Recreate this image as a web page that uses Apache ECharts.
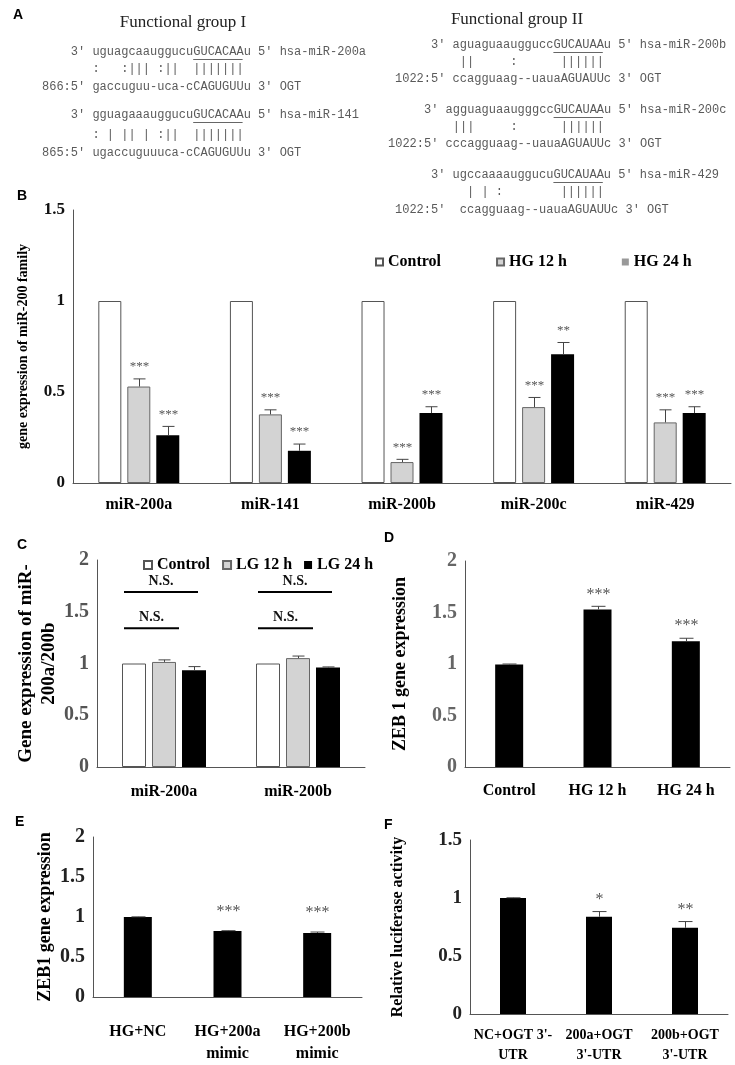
<!DOCTYPE html>
<html><head><meta charset="utf-8">
<script src="https://cdn.jsdelivr.net/npm/echarts@6/dist/echarts.min.js"></script>
<style>html,body{margin:0;padding:0;background:#fff}#c{width:735px;height:1065px}</style>
</head><body><div id="c"></div>
<script>
// ---------- Panel A text ----------
const titleI = 'Functional group I';
const titleII = 'Functional group II';
const seqGroupI = [
  "    3' uguagcaauggucuGUCACAAu 5' hsa-miR-200a",
  "       :   :||| :||  |||||||",
  "866:5' gaccuguu-uca-cCAGUGUUu 3' OGT",
  "    3' gguagaaauggucuGUCACAAu 5' hsa-miR-141",
  "       : | || | :||  |||||||",
  "865:5' ugaccuguuuca-cCAGUGUUu 3' OGT"
];
const seqGroupII = [
  "     3' aguaguaaugguccGUCAUAAu 5' hsa-miR-200b",
  "         ||     :      ||||||",
  "1022:5' ccagguaag--uauaAGUAUUc 3' OGT",
  "     3' agguaguaaugggccGUCAUAAu 5' hsa-miR-200c",
  "         |||     :      ||||||",
  "1022:5' cccagguaag--uauaAGUAUUc 3' OGT",
  "     3' ugccaaaauggucuGUCAUAAu 5' hsa-miR-429",
  "          | | :        ||||||",
  "1022:5'  ccagguaag--uauaAGUAUUc 3' OGT"
];
// seed (underlined) region: [line index, first char, last char]
const seedI = [[0, 21, 27], [3, 21, 27]];
const seedII = [[0, 22, 28], [3, 23, 29], [6, 22, 28]];

// ---------- Panel B ----------
const bCategories = ['miR-200a', 'miR-141', 'miR-200b', 'miR-200c', 'miR-429'];
const bSeriesNames = ['Control', 'HG 12 h', 'HG 24 h'];
const bControl = [1, 1, 1, 1, 1];
const bHG12 = [0.53, 0.377, 0.115, 0.417, 0.333];
const bHG12Err = [0.042, 0.025, 0.015, 0.053, 0.069];
const bHG12Sig = ['***', '***', '***', '***', '***'];
const bHG24 = [0.263, 0.177, 0.384, 0.708, 0.384];
const bHG24Err = [0.048, 0.037, 0.035, 0.064, 0.035];
const bHG24Sig = ['***', '***', '***', '**', '***'];
const bYTicks = [0, 0.5, 1, 1.5];
const bYName = 'gene expression of miR-200 family';

// ---------- Panel C ----------
const cCategories = ['miR-200a', 'miR-200b'];
const cSeriesNames = ['Control', 'LG 12 h', 'LG 24 h'];
const cControl = [1, 1];
const cLG12 = [1.015, 1.052];
const cLG12Err = [0.02, 0.02];
const cLG24 = [0.935, 0.962];
const cLG24Err = [0.035, 0.005];
const cNSLevel = [1.69, 1.34];
const cNSFrom = [0, 0];
const cNSTo = [2, 1];
const cNSText = ['N.S.', 'N.S.'];
const cYTicks = [0, 0.5, 1, 1.5, 2];
const cYName = 'Gene expression of miR-\n200a/200b';

// ---------- Panel D ----------
const dCategories = ['Control', 'HG 12 h', 'HG 24 h'];
const dValues = [0.995, 1.53, 1.22];
const dErr = [0.005, 0.03, 0.03];
const dSig = ['', '***', '***'];
const dYTicks = [0, 0.5, 1, 1.5, 2];
const dYName = 'ZEB 1 gene expression';

// ---------- Panel E ----------
const eCategories = ['HG+NC', 'HG+200a\nmimic', 'HG+200b\nmimic'];
const eValues = [1.0, 0.826, 0.80];
const eErr = [0.002, 0.003, 0.012];
const eSig = ['', '***', '***'];
const eYTicks = [0, 0.5, 1, 1.5, 2];
const eYName = 'ZEB1 gene expression';

// ---------- Panel F ----------
const fCategories = ["NC+OGT 3'-\nUTR", "200a+OGT\n3'-UTR", "200b+OGT\n3'-UTR"];
const fValues = [1.0, 0.838, 0.743];
const fErr = [0.002, 0.045, 0.054];
const fSig = ['', '*', '**'];
const fYTicks = [0, 0.5, 1, 1.5];
const fYName = 'Relative luciferase activity';

const panelLetters = ['A', 'B', 'C', 'D', 'E', 'F'];

// ---------- styling ----------
const SERIF = '"Liberation Serif","Times New Roman",serif';
const MONO = '"Liberation Mono","Courier New",monospace';
const SANS = '"Liberation Sans",Arial,sans-serif';
const CH = 7.2; // mono char width at 12px

const chart = echarts.init(document.getElementById('c'), null, {renderer: 'canvas', width: 735, height: 1065});

function xAxisCfg(idx, cats, fontSize, margin, lineHeight) {
  return {
    type: 'category', gridIndex: idx, data: cats,
    axisLine: {lineStyle: {color: '#555', width: 1}},
    axisTick: {show: false},
    axisLabel: {interval: 0, margin: margin, color: '#000', fontFamily: SERIF, fontWeight: 'bold',
      fontSize: fontSize, lineHeight: lineHeight || fontSize + 4}
  };
}
function yAxisCfg(idx, ticks, name, nameSize, nameGap, labelSize, labelColor, nameLH) {
  return {
    type: 'value', gridIndex: idx, min: ticks[0], max: ticks[ticks.length - 1],
    interval: ticks[1] - ticks[0],
    name: name, nameLocation: 'middle', nameRotate: 90, nameGap: nameGap,
    nameTextStyle: {fontFamily: SERIF, fontWeight: 'bold', fontSize: nameSize, color: '#000',
      lineHeight: nameLH || nameSize + 4},
    axisLine: {show: true, lineStyle: {color: '#555', width: 1}},
    axisTick: {show: false},
    splitLine: {show: false},
    axisLabel: {color: labelColor, fontFamily: SERIF, fontWeight: 'bold', fontSize: labelSize, margin: 8,
      formatter: v => String(v)}
  };
}
function barSeries(name, idx, data, color, border, barW, gap) {
  return {
    type: 'bar', name: name, xAxisIndex: idx, yAxisIndex: idx, data: data,
    barWidth: barW, barGap: gap,
    itemStyle: {color: color, borderColor: border || color, borderWidth: border ? 1 : 0},
    silent: true
  };
}
function errSeries(idx, k, n, barW, gapPx, values, errs, sigs, o) {
  return {
    type: 'custom', xAxisIndex: idx, yAxisIndex: idx, z: 10, silent: true,
    data: values.map((v, i) => [i, v, errs[i]]),
    renderItem: (params, api) => {
      const i = api.value(0), v = api.value(1), e = api.value(2);
      const off = (k - (n - 1) / 2) * (barW + gapPx);
      const p0 = api.coord([i, v]);
      const p1 = api.coord([i, v + e]);
      const x = Math.round(p0[0] + off) + 0.5;
      const ch = [];
      if (e > 0) {
        ch.push({type: 'line', shape: {x1: x, y1: p0[1], x2: x, y2: p1[1]}, style: {stroke: o.color, lineWidth: 1}});
        ch.push({type: 'line', shape: {x1: x - o.cap, y1: p1[1], x2: x + o.cap, y2: p1[1]}, style: {stroke: o.color, lineWidth: 1}});
      }
      const s = sigs[params.dataIndex];
      if (s) ch.push({type: 'text', style: {text: s, x: x, y: p1[1] - o.starGap, align: 'center', verticalAlign: 'middle',
        textAlign: 'center', textVerticalAlign: 'middle', fontFamily: SERIF, fontSize: o.starSize, fill: o.starColor}});
      return {type: 'group', children: ch};
    }
  };
}

// C bar geometry
const cBarW = 24, cGap = 6;
const nsSeries = {
  type: 'custom', xAxisIndex: 1, yAxisIndex: 1, z: 10, silent: true,
  data: cCategories.flatMap((c, ci) => cNSLevel.map((lv, li) => [ci, lv, cNSFrom[li], cNSTo[li], li])),
  renderItem: (params, api) => {
    const ci = api.value(0), lv = api.value(1), fr = api.value(2), to = api.value(3), li = api.value(4);
    const p = api.coord([ci, lv]);
    const step = cBarW + cGap;
    const x1 = p[0] + (fr - 1) * step - cBarW / 2 + 2;
    const x2 = p[0] + (to - 1) * step + cBarW / 2 - (to === 2 ? 8 : -3);
    return {type: 'group', children: [
      {type: 'line', shape: {x1: x1, y1: p[1], x2: x2, y2: p[1]}, style: {stroke: '#000', lineWidth: 2}},
      {type: 'text', style: {text: cNSText[li], x: (x1 + x2) / 2, y: p[1] - 11, align: 'center', verticalAlign: 'middle',
        textAlign: 'center', textVerticalAlign: 'middle', fontFamily: SERIF, fontWeight: 'bold', fontSize: 14, fill: '#111'}}
    ]};
  }
};

// ---------- Panel A graphics ----------
const graphics = [];
function addTitle(t, x, y) {
  graphics.push({type: 'text', x: x, y: y, style: {text: t, align: 'center', verticalAlign: 'middle',
    textAlign: 'center', textVerticalAlign: 'middle', fontFamily: SERIF, fontSize: 17, fill: '#222'}});
}
function addSeq(lines, xs, ys, seeds) {
  lines.forEach((t, i) => {
    graphics.push({type: 'text', x: xs[i], y: ys[i], style: {text: t, align: 'left', verticalAlign: 'middle',
      textAlign: 'left', textVerticalAlign: 'middle', fontFamily: MONO, fontSize: 12, fill: '#5a5a5a'}});
  });
  seeds.forEach(([li, a, b]) => {
    graphics.push({type: 'line', shape: {x1: xs[li] + a * CH, y1: ys[li] + 7.5, x2: xs[li] + (b + 1) * CH - 1, y2: ys[li] + 7.5},
      style: {stroke: '#666', lineWidth: 1}});
  });
}
addTitle(titleI, 183, 23);
addTitle(titleII, 517, 20);
addSeq(seqGroupI, [42, 42, 42, 42, 42, 42], [52, 69, 87, 115, 135, 153], seedI);
addSeq(seqGroupII, [395, 395, 395, 388, 388, 388, 395, 395, 395], [45, 62, 79, 110, 127, 144, 175, 192, 210], seedII);

const letterPos = [[13, 15], [17, 196], [17, 545], [384, 538], [15, 822], [384, 825]];
panelLetters.forEach((L, i) => {
  graphics.push({type: 'text', x: letterPos[i][0], y: letterPos[i][1], style: {text: L, align: 'left', verticalAlign: 'middle',
    textAlign: 'left', textVerticalAlign: 'middle', fontFamily: SANS, fontWeight: 'bold', fontSize: 14, fill: '#000'}});
});

const errB = {color: '#444', cap: 6, starGap: 12, starSize: 13, starColor: '#555'};
const errC = {color: '#444', cap: 6, starGap: 12, starSize: 13, starColor: '#555'};
const errD = {color: '#444', cap: 7, starGap: 12, starSize: 16, starColor: '#555'};
const errE = {color: '#444', cap: 7, starGap: 19, starSize: 16, starColor: '#555'};
const errF = {color: '#444', cap: 7, starGap: 12, starSize: 16, starColor: '#555'};

const option = {
  animation: false,
  backgroundColor: '#fff',
  grid: [
    {left: 73, top: 210, width: 658, height: 273},
    {left: 97, top: 560, width: 268, height: 207},
    {left: 465, top: 561, width: 265, height: 206},
    {left: 93, top: 837, width: 269, height: 180},
    {left: 470, top: 840, width: 258, height: 183}
  ],
  xAxis: [
    xAxisCfg(0, bCategories, 16, 12),
    xAxisCfg(1, cCategories, 16, 15),
    xAxisCfg(2, dCategories, 16, 14),
    xAxisCfg(3, eCategories, 16, 24, 22),
    xAxisCfg(4, fCategories, 14, 11, 20)
  ],
  yAxis: [
    yAxisCfg(0, bYTicks, bYName, 14, 41, 17, '#111'),
    yAxisCfg(1, cYTicks, cYName, 19, 29, 20, '#555', 23),
    yAxisCfg(2, dYTicks, dYName, 18, 54, 20, '#666'),
    yAxisCfg(3, eYTicks, eYName, 18, 34, 20, '#222'),
    yAxisCfg(4, fYTicks, fYName, 16, 62, 19, '#222')
  ],
  legend: [
    {left: 370, top: 249, itemWidth: 7, itemHeight: 7, itemGap: 55, icon: 'rect', selectedMode: false,
      textStyle: {fontFamily: SERIF, fontWeight: 'bold', fontSize: 16, color: '#000'},
      data: [{name: bSeriesNames[0]}, {name: bSeriesNames[1]}, {name: bSeriesNames[2], itemStyle: {color: '#999', borderWidth: 0}}]},
    {left: 138, top: 552, itemWidth: 8, itemHeight: 8, itemGap: 12, icon: 'rect', selectedMode: false,
      textStyle: {fontFamily: SERIF, fontWeight: 'bold', fontSize: 16, color: '#000'},
      data: cSeriesNames}
  ],
  graphic: graphics,
  series: [
    barSeries(bSeriesNames[0], 0, bControl, '#fff', '#555', 23, '26%'),
    barSeries(bSeriesNames[1], 0, bHG12, '#d3d3d3', '#666', 23, '26%'),
    barSeries(bSeriesNames[2], 0, bHG24, '#000', null, 23, '26%'),
    errSeries(0, 1, 3, 23, 6, bHG12, bHG12Err, bHG12Sig, errB),
    errSeries(0, 2, 3, 23, 6, bHG24, bHG24Err, bHG24Sig, errB),

    barSeries(cSeriesNames[0], 1, cControl, '#fff', '#555', cBarW, '25%'),
    barSeries(cSeriesNames[1], 1, cLG12, '#d3d3d3', '#666', cBarW, '25%'),
    barSeries(cSeriesNames[2], 1, cLG24, '#000', null, cBarW, '25%'),
    errSeries(1, 1, 3, cBarW, cGap, cLG12, cLG12Err, ['', ''], errC),
    errSeries(1, 2, 3, cBarW, cGap, cLG24, cLG24Err, ['', ''], errC),
    nsSeries,

    barSeries('ZEB1', 2, dValues, '#000', null, 28, '0%'),
    errSeries(2, 0, 1, 28, 0, dValues, dErr, dSig, errD),

    barSeries('ZEB1 mimic', 3, eValues, '#000', null, 28, '0%'),
    errSeries(3, 0, 1, 28, 0, eValues, eErr, eSig, errE),

    barSeries('Luciferase', 4, fValues, '#000', null, 26, '0%'),
    errSeries(4, 0, 1, 26, 0, fValues, fErr, fSig, errF)
  ]
};
chart.setOption(option);
</script>
</body></html>
